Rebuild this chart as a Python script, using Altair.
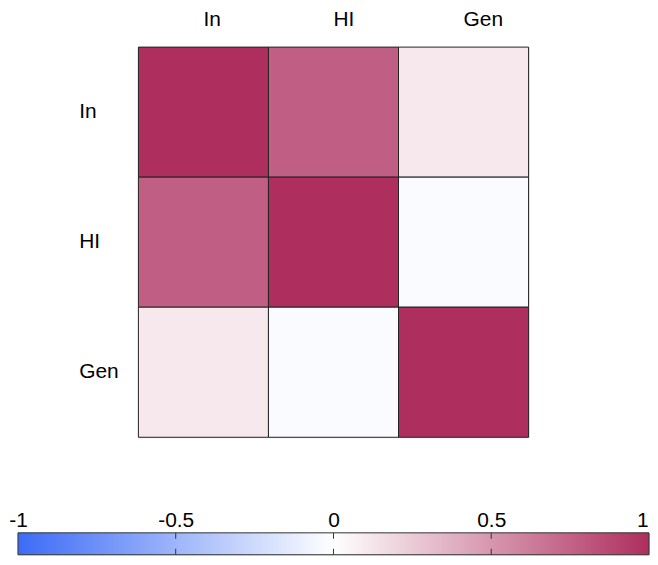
import altair as alt
import pandas as pd

labels = ["In", "HI", "Gen"]
rows = ["In", "In", "In", "HI", "HI", "HI", "Gen", "Gen", "Gen"]
cols = ["In", "HI", "Gen", "In", "HI", "Gen", "In", "HI", "Gen"]
values = [1.0, 0.77, 0.11, 0.77, 1.0, -0.03, 0.11, -0.03, 1.0]

bar_ticks = [-1, -0.5, 0, 0.5, 1]
inner_ticks = [-0.5, 0, 0.5]

low_col = "#3c6bf6"
mid_col = "#ffffff"
high_col = "#ae2e5e"

FONT = "Liberation Sans"

df = pd.DataFrame({"row": rows, "col": cols, "value": values})

heat = alt.Chart(df).mark_rect(stroke="#222222", strokeWidth=1).encode(
    x=alt.X("col:N", sort=labels, title=None,
            scale=alt.Scale(paddingInner=0, paddingOuter=0),
            axis=alt.Axis(orient="top", labelAngle=0, labelAlign="left",
                          ticks=False, tickSize=0, domain=False,
                          labelFontSize=21, labelFont=FONT, labelColor="black",
                          labelPadding=18)),
    y=alt.Y("row:N", sort=labels, title=None,
            scale=alt.Scale(paddingInner=0, paddingOuter=0),
            axis=alt.Axis(orient="left", labelAlign="left", labelBaseline="middle",
                          ticks=False, tickSize=0, domain=False,
                          labelFontSize=21, labelFont=FONT, labelColor="black",
                          labelPadding=60)),
    color=alt.Color("value:Q", legend=None,
                    scale=alt.Scale(domain=[-1, 0, 1], range=[low_col, mid_col, high_col],
                                    interpolate="rgb")),
).properties(width=392, height=392)

bar_df = pd.DataFrame({"start": [-1.0], "end": [1.0]})
grad = alt.Gradient(gradient="linear",
                    stops=[alt.GradientStop(color=low_col, offset=0),
                           alt.GradientStop(color=mid_col, offset=0.5),
                           alt.GradientStop(color=high_col, offset=1)],
                    x1=0, x2=1, y1=0, y2=0)

xscale = alt.Scale(domain=[-1, 1], nice=False, zero=False)

bar = alt.Chart(bar_df).mark_rect(color=grad, stroke="#333333", strokeWidth=1).encode(
    x=alt.X("start:Q", scale=xscale, title=None,
            axis=alt.Axis(orient="top", values=bar_ticks, ticks=False, tickSize=0,
                          domain=False, grid=False, labelFlush=False,
                          labelFontSize=21, labelFont=FONT, labelColor="black",
                          labelPadding=2, format="~g",
                          labelExpr="replace(datum.label, '\u2212', '-')",
                          labelAlign=alt.ExprRef(expr="datum.value >= 1 ? 'right' : 'center'"),
                          labelOffset=alt.ExprRef(expr="datum.value >= 1 ? -1 : 0"))),
    x2="end:Q",
    y=alt.value(0),
    y2=alt.value(22),
)

tick_df = pd.DataFrame({"v": inner_ticks})
top_ticks = alt.Chart(tick_df).mark_rule(color="#333333", strokeWidth=1).encode(
    x=alt.X("v:Q", scale=xscale), y=alt.value(0), y2=alt.value(6))
bot_ticks = alt.Chart(tick_df).mark_rule(color="#333333", strokeWidth=1).encode(
    x=alt.X("v:Q", scale=xscale), y=alt.value(16), y2=alt.value(22))

colorbar = alt.layer(bar, top_ticks, bot_ticks).properties(width=634, height=22)

chart = alt.vconcat(heat, colorbar, spacing=96, center=True, bounds="flush").properties(
    padding={"left": 0, "top": -2, "right": 0, "bottom": 0}
).configure_view(stroke=None).configure(background="white")

chart.save("out.html", embed_options={"renderer": "svg", "actions": False})
